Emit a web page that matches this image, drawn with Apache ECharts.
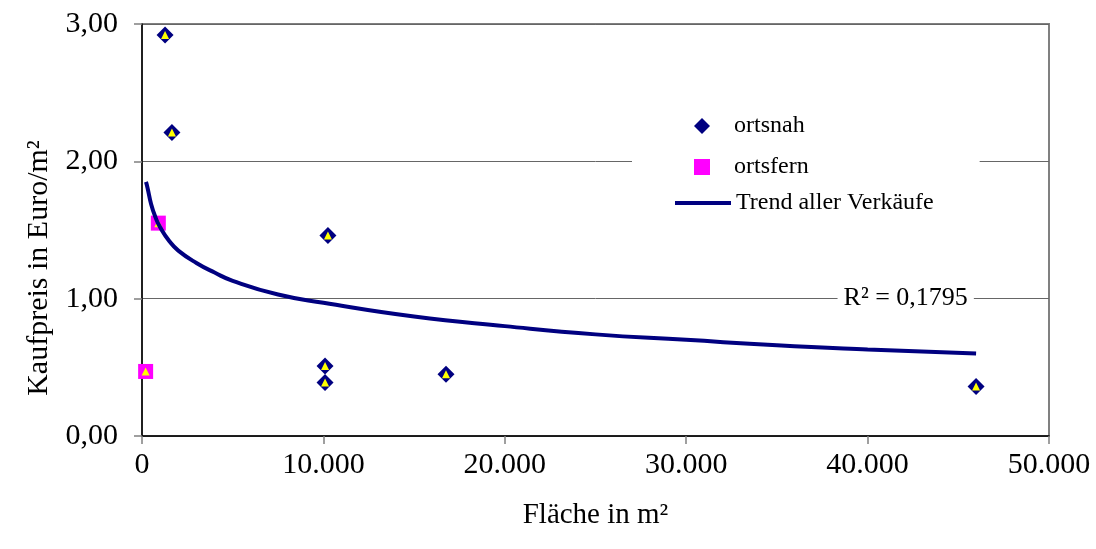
<!DOCTYPE html>
<html>
<head>
<meta charset="utf-8">
<script src="https://cdn.jsdelivr.net/npm/echarts@6.0.0/dist/echarts.min.js"></script>
<style>
  html, body { margin: 0; padding: 0; background: #fff; }
  #chart { width: 1096px; height: 549px; }
</style>
</head>
<body>
<div id="chart"></div>
<script>
// ortsnah sales: [Fläche m², Kaufpreis Euro/m²]
const ortsnahX = [1270, 1650, 10250, 10090, 10090, 16760, 45980];
const ortsnahY = [2.92, 2.21, 1.46, 0.51, 0.39, 0.45, 0.36];

// ortsfern sales
const ortsfernX = [900, 200];
const ortsfernY = [1.55, 0.47];

// trend curve
const trendX = [220, 300, 500, 750, 1000, 1500, 2000, 3000, 4000, 5000, 7500, 10000, 15000, 20000, 25000, 30000, 35000, 40000, 45980];
const trendY = [1.85, 1.81, 1.69, 1.59, 1.52, 1.42, 1.35, 1.26, 1.19, 1.13, 1.03, 0.97, 0.87, 0.80, 0.74, 0.70, 0.66, 0.63, 0.60];

const rSquared = "R² = 0,1795";
const rSquaredAt = [42100, 1.0];

const serif = '"Liberation Serif", "Times New Roman", serif';

const ortsnah = ortsnahX.map((x, i) => [x, ortsnahY[i]]);
const ortsfern = ortsfernX.map((x, i) => [x, ortsfernY[i]]);
const trend = trendX.map((x, i) => [x, trendY[i]]);

const legendText = { fontFamily: serif, fontSize: 24, color: "#000" };

const chart = echarts.init(document.getElementById("chart"));

const option = {
  backgroundColor: "#fff",
  animation: false,
  grid: {
    left: 142,
    top: 24,
    right: 47,
    bottom: 113,
    containLabel: false,
    outerBoundsMode: "none",
    show: true,
    borderColor: "#808080",
    borderWidth: 2,
    backgroundColor: "#fff",
  },
  legend: [
    {
      // markers
      orient: "vertical",
      left: 632,
      top: 106,
      itemWidth: 16,
      itemHeight: 16,
      itemGap: 17,
      backgroundColor: "#fff",
      padding: [8, 171, 12, 62],
      textStyle: Object.assign({ padding: [0, 0, 0, 19] }, legendText),
      data: [
        { name: "ortsnah", icon: "diamond" },
        { name: "ortsfern", icon: "rect" },
      ],
    },
    {
      // trend line
      orient: "vertical",
      left: 632,
      top: 191,
      itemWidth: 56,
      itemHeight: 4,
      backgroundColor: "#fff",
      padding: [0, 42, 10, 43],
      textStyle: legendText,
      data: [{ name: "Trend aller Verkäufe", icon: "rect" }],
    },
  ],
  xAxis: {
    type: "value",
    min: 0,
    max: 50000,
    interval: 10000,
    name: "Fläche in m²",
    nameLocation: "middle",
    nameGap: 65,
    nameTextStyle: { fontFamily: serif, fontSize: 29, color: "#000" },
    axisLine: { show: true, lineStyle: { color: "#000", width: 1.5 } },
    axisTick: { show: true, length: 8, lineStyle: { color: "#808080", width: 1.5 } },
    axisLabel: {
      margin: 14,
      fontFamily: serif,
      fontSize: 30,
      color: "#000",
      formatter: (v) => String(v).replace(/\B(?=(\d{3})+(?!\d))/g, "."),
    },
    splitLine: { show: false },
  },
  yAxis: {
    type: "value",
    min: 0,
    max: 3,
    interval: 1,
    name: "Kaufpreis in Euro/m²",
    nameLocation: "middle",
    nameGap: 88,
    nameTextStyle: { fontFamily: serif, fontSize: 30, color: "#000", padding: [0, 76, 0, 0] },
    axisLine: { show: true, lineStyle: { color: "#000", width: 1.5 } },
    axisTick: { show: true, length: 8, lineStyle: { color: "#808080", width: 1.5 } },
    axisLabel: {
      margin: 24,
      fontFamily: serif,
      fontSize: 30,
      color: "#000",
      formatter: (v) => v.toFixed(2).replace(".", ","),
    },
    splitLine: { show: true, lineStyle: { color: "#666", width: 1 } },
  },
  series: [
    {
      name: "ortsnah",
      type: "scatter",
      symbol: "diamond",
      symbolSize: 17,
      itemStyle: { color: "#000080", opacity: 1 },
      data: ortsnah,
      z: 2,
    },
    {
      name: "ortsfern",
      type: "scatter",
      symbol: "rect",
      symbolSize: 15,
      itemStyle: { color: "#FF00FF", opacity: 1 },
      data: ortsfern,
      z: 2,
    },
    {
      // all sales, yellow marker on top (not in legend)
      name: "alle",
      type: "scatter",
      symbol: "triangle",
      symbolSize: 8,
      itemStyle: { color: "#FFFF00", opacity: 1 },
      data: ortsnah.concat(ortsfern),
      silent: true,
      z: 3,
    },
    {
      name: "Trend aller Verkäufe",
      type: "line",
      smooth: true,
      symbol: "none",
      lineStyle: { color: "#000080", width: 4 },
      itemStyle: { color: "#000080" },
      data: trend,
      z: 4,
      markPoint: {
        symbol: "rect",
        symbolSize: 0,
        data: [{ coord: rSquaredAt }],
        label: {
          show: true,
          position: "inside",
          formatter: rSquared,
          fontFamily: serif,
          fontSize: 26,
          color: "#000",
          backgroundColor: "#fff",
          padding: [2, 6],
        },
      },
    },
  ],
};

chart.setOption(option);
</script>
</body>
</html>
